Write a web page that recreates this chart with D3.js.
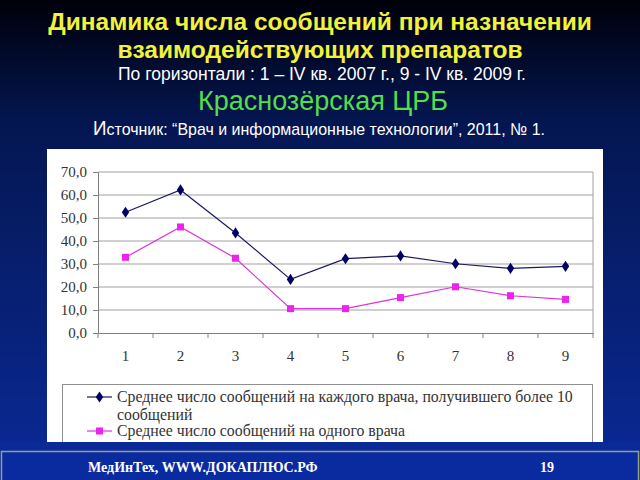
<!DOCTYPE html>
<html><head><meta charset="utf-8">
<script src="https://cdn.jsdelivr.net/npm/d3@7"></script>
<style>html,body{margin:0;padding:0;background:#000;}svg{display:block;}</style>
</head><body>
<script>
const categories = ["1","2","3","4","5","6","7","8","9"];
const series1 = [52.5, 62.2, 43.5, 23.3, 32.3, 33.5, 30.1, 28.1, 29.0];
const series2 = [32.9, 46.1, 32.5, 10.6, 10.6, 15.4, 20.1, 16.2, 14.6];
const yTicks = [0, 10, 20, 30, 40, 50, 60, 70];
const seriesNames = ["Среднее число сообщений на каждого врача, получившего более 10 сообщений", "Среднее число сообщений на одного врача"];

const W = 640, H = 480;
const svg = d3.select("body").append("svg").attr("width", W).attr("height", H);
const defs = svg.append("defs");
const g = defs.append("linearGradient").attr("id","bg").attr("x1",0).attr("y1",0).attr("x2",0).attr("y2",1);
g.append("stop").attr("offset","0%").attr("stop-color","#00000a");
g.append("stop").attr("offset","25%").attr("stop-color","#041650");
g.append("stop").attr("offset","100%").attr("stop-color","#0a2a98");
svg.append("rect").attr("width",W).attr("height",H).attr("fill","url(#bg)");

// titles
const title = svg.append("g").attr("font-family","Liberation Sans, Arial, sans-serif").attr("text-anchor","middle");
title.append("text").attr("x",320).attr("y",30).attr("fill","#f2f23c").attr("font-weight","bold").attr("font-size",24.5).text("Динамика числа сообщений при назначении");
title.append("text").attr("x",320).attr("y",58).attr("fill","#f2f23c").attr("font-weight","bold").attr("font-size",24.5).text("взаимодействующих препаратов");
title.append("text").attr("x",322).attr("y",80).attr("fill","#ffffff").attr("font-size",17.5).text("По горизонтали : 1 – IV кв. 2007 г., 9 - IV кв. 2009 г.");
title.append("text").attr("x",323).attr("y",110).attr("fill","#55dd4a").attr("font-size",27).text("Краснозёрская ЦРБ");
const src = svg.append("text").attr("x",93).attr("y",135).attr("fill","#ffffff").attr("font-size",17)
  .attr("font-family","Liberation Sans, Arial, sans-serif")
  .attr("textLength",452).attr("lengthAdjust","spacingAndGlyphs");
src.append("tspan").attr("font-size",20).text("И");
src.append("tspan").text("сточник: “Врач и информационные технологии”, 2011, № 1.");

// panel
svg.append("rect").attr("x",47).attr("y",149).attr("width",556).attr("height",293).attr("fill","#ffffff");

const x = d3.scaleBand().domain(categories).range([98, 593]);
const y = d3.scaleLinear().domain([0, 70]).range([333, 172]);

const plot = svg.append("g");
plot.selectAll("line.grid").data(yTicks.filter(d => d > 0)).enter().append("line")
  .attr("x1",98).attr("x2",593).attr("y1",d=>y(d)).attr("y2",d=>y(d))
  .attr("stroke","#a0a0a0").attr("stroke-width",1);
plot.append("line").attr("x1",593).attr("x2",593).attr("y1",y(70)).attr("y2",y(0)).attr("stroke","#a0a0a0");

const yAxis = d3.axisLeft(y).tickValues(yTicks).tickSize(5).tickPadding(6)
  .tickFormat(d => d3.format(".1f")(d).replace(".", ","));
const ya = plot.append("g").attr("transform","translate(98,0)").call(yAxis);
ya.select(".domain").attr("stroke","#808080");
ya.selectAll(".tick line").attr("stroke","#808080");
ya.selectAll("text").attr("font-family","Liberation Serif, Times New Roman, serif").attr("font-size",15).attr("fill","#333");

const xAxis = d3.axisBottom(x).tickSize(0).tickPadding(17);
const xa = plot.append("g").attr("transform","translate(0,333)").call(xAxis);
xa.select(".domain").attr("stroke","#808080");
xa.selectAll("text").attr("font-family","Liberation Serif, Times New Roman, serif").attr("font-size",15).attr("fill","#333");
plot.selectAll("line.xt").data(d3.range(categories.length + 1)).enter().append("line")
  .attr("x1",i=>98 + i*x.step()).attr("x2",i=>98 + i*x.step()).attr("y1",333).attr("y2",338)
  .attr("stroke","#808080");

const cx = (d,i) => x(categories[i]) + x.bandwidth()/2;
const line = d3.line().x((d,i)=>cx(d,i)).y(d=>y(d));
plot.append("path").datum(series1).attr("d",line).attr("fill","none").attr("stroke","#1a1a5e").attr("stroke-width",1.2);
plot.append("path").datum(series2).attr("d",line).attr("fill","none").attr("stroke","#dd33dd").attr("stroke-width",1.2);

const diamond = d3.symbol().type(d3.symbolDiamond).size(36);
plot.selectAll("path.m1").data(series1).enter().append("path")
  .attr("d",diamond).attr("transform",(d,i)=>`translate(${cx(d,i)},${y(d)}) scale(1.15,1)`).attr("fill","#000066");
plot.selectAll("rect.m2").data(series2).enter().append("rect")
  .attr("x",(d,i)=>cx(d,i)-3.5).attr("y",d=>y(d)-3.5).attr("width",7).attr("height",7).attr("fill","#ee22ee");

// legend
const words0 = seriesNames[0].split(" ");
const leg0a = words0.slice(0, words0.length - 1).join(" ");
const leg0b = words0[words0.length - 1];
const lg = svg.append("g");
lg.append("rect").attr("x",62.5).attr("y",384.5).attr("width",530).attr("height",60).attr("fill","#fff").attr("stroke","#909090");
const lf = "Liberation Serif, Times New Roman, serif";
lg.append("line").attr("x1",87).attr("x2",112).attr("y1",397).attr("y2",397).attr("stroke","#1a1a5e").attr("stroke-width",1.2);
lg.append("path").attr("d",diamond).attr("transform","translate(99.5,397) scale(1.15,1)").attr("fill","#000066");
lg.append("text").attr("x",117).attr("y",402).attr("font-family",lf).attr("font-size",15.8).attr("fill","#333").text(leg0a);
lg.append("text").attr("x",117).attr("y",420).attr("font-family",lf).attr("font-size",15.8).attr("fill","#333").text(leg0b);
lg.append("line").attr("x1",87).attr("x2",112).attr("y1",431).attr("y2",431).attr("stroke","#dd33dd").attr("stroke-width",1.2);
lg.append("rect").attr("x",96).attr("y",427.5).attr("width",7).attr("height",7).attr("fill","#ee22ee");
lg.append("text").attr("x",117).attr("y",436).attr("font-family",lf).attr("font-size",15.8).attr("fill","#333").text(seriesNames[1]);

svg.append("rect").attr("x",0).attr("y",442).attr("width",W).attr("height",9).attr("fill","#0a2a98");

// footer
svg.append("rect").attr("x",1.5).attr("y",451.5).attr("width",637).attr("height",30).attr("fill","#0a2aa0").attr("stroke","#8fa090").attr("stroke-width",1.5);
svg.append("text").attr("x",88).attr("y",472).attr("font-family","Liberation Serif, Times New Roman, serif").attr("font-weight","bold").attr("font-size",14).attr("fill","#fff").text("МедИнТех, WWW.ДОКАПЛЮС.РФ");
svg.append("text").attr("x",540).attr("y",472).attr("font-family","Liberation Serif, Times New Roman, serif").attr("font-weight","bold").attr("font-size",14).attr("fill","#fff").text("19");
</script>
</body></html>
